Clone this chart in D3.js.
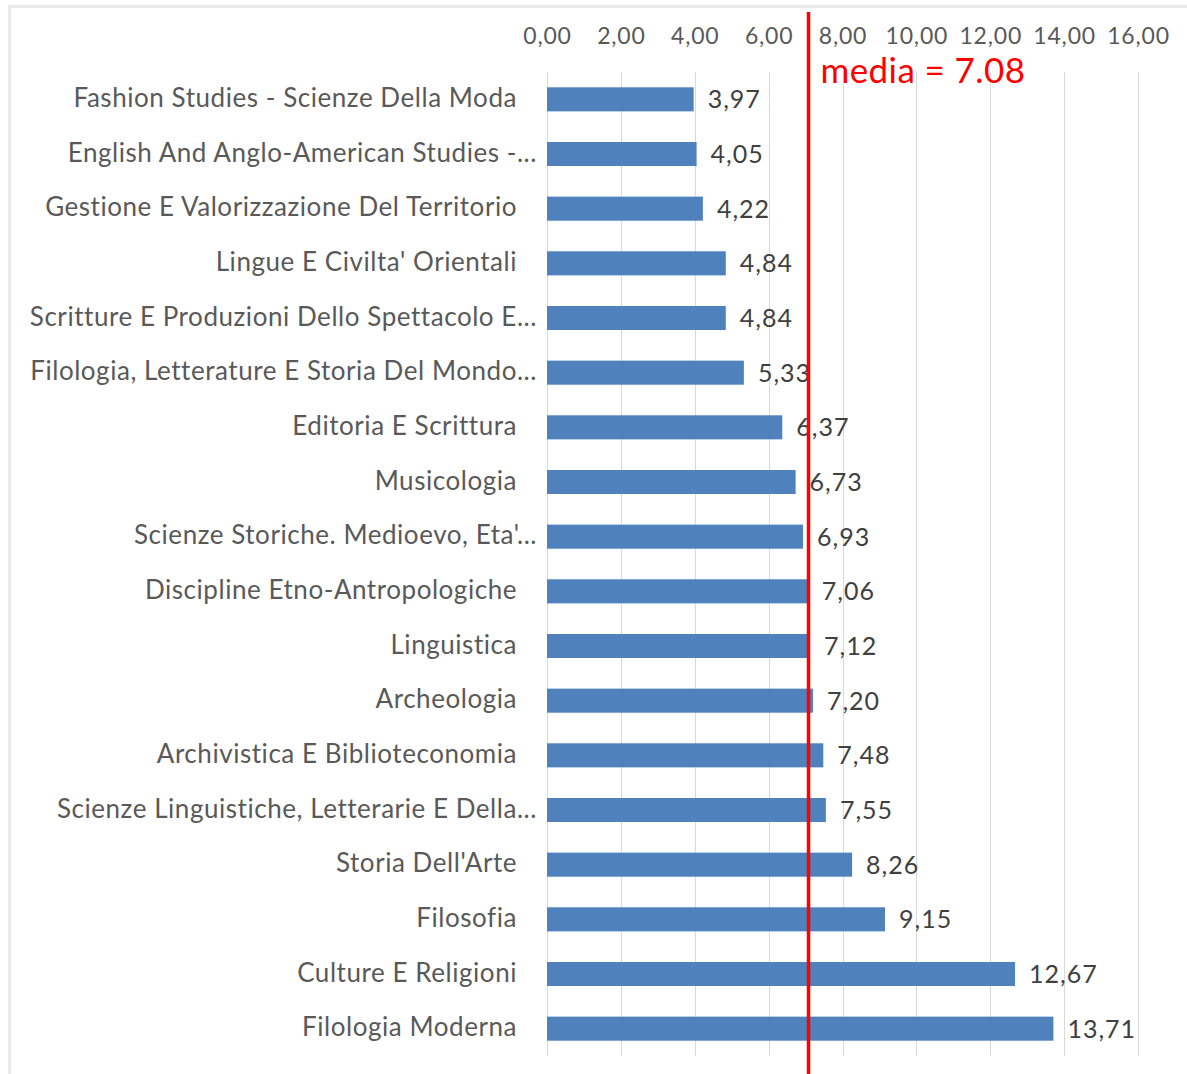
<!DOCTYPE html>
<html>
<head>
<meta charset="utf-8">
<script src="https://cdn.jsdelivr.net/npm/d3@7"></script>
<style>
  html, body { margin: 0; padding: 0; background: #ffffff; }
  svg { display: block; }
  text { font-family: Lato, "Open Sans", "DejaVu Sans", sans-serif; }
</style>
</head>
<body>
<svg id="chart" width="1187" height="1074"></svg>
<script>
// Corsi di laurea, ordered from lowest to highest value
const categories = [
  "Fashion Studies - Scienze Della Moda",
  "English And Anglo-American Studies -...",
  "Gestione E Valorizzazione Del Territorio",
  "Lingue E Civilta' Orientali",
  "Scritture E Produzioni Dello Spettacolo E...",
  "Filologia, Letterature E Storia Del Mondo...",
  "Editoria E Scrittura",
  "Musicologia",
  "Scienze Storiche. Medioevo, Eta'...",
  "Discipline Etno-Antropologiche",
  "Linguistica",
  "Archeologia",
  "Archivistica E Biblioteconomia",
  "Scienze Linguistiche, Letterarie E Della...",
  "Storia Dell'Arte",
  "Filosofia",
  "Culture E Religioni",
  "Filologia Moderna"
];
const values = [3.97, 4.05, 4.22, 4.84, 4.84, 5.33, 6.37, 6.73, 6.93, 7.06, 7.12, 7.20, 7.48, 7.55, 8.26, 9.15, 12.67, 13.71];
const tickValues = [0, 2, 4, 6, 8, 10, 12, 14, 16];
const mean = 7.08;
const meanLabel = "media = 7.08";

const svg = d3.select("#chart");
const W = 1187, H = 1074;

const itLocale = d3.formatLocale({ decimal: ",", thousands: ".", grouping: [3], currency: ["€", ""] });
const fmt = itLocale.format(".2f");

const x = d3.scaleLinear().domain([0, 16]).range([547, 1138]);
const y = d3.scaleBand().domain(categories).range([72, 1056])
  .paddingInner(0.56).paddingOuter(0.28);

// outer frame
svg.append("rect")
  .attr("x", 9.5).attr("y", 6.5)
  .attr("width", W + 10).attr("height", H + 10)
  .attr("fill", "none").attr("stroke", "#ebebeb").attr("stroke-width", 3);

// vertical gridlines
svg.append("g").selectAll("line")
  .data(tickValues.slice(1))
  .join("line")
  .attr("x1", d => Math.round(x(d)) + 0.5).attr("x2", d => Math.round(x(d)) + 0.5)
  .attr("y1", 72).attr("y2", 1056)
  .attr("stroke", "#d9d9d9").attr("stroke-width", 1);

// category axis line
svg.append("line")
  .attr("x1", x(0) + 0.5).attr("x2", x(0) + 0.5)
  .attr("y1", 72).attr("y2", 1056)
  .attr("stroke", "#d9d9d9").attr("stroke-width", 1);

// value axis on top
const xAxis = svg.append("g")
  .attr("transform", "translate(0,44)")
  .call(d3.axisTop(x).tickValues(tickValues).tickFormat(fmt).tickSize(0).tickPadding(0));
xAxis.select(".domain").remove();
xAxis.selectAll("text")
  .attr("font-size", 23).attr("fill", "#595959")
  .attr("letter-spacing", 0.8)
  .style("font-family", "Lato, 'Open Sans', sans-serif");

// bars
svg.append("g").selectAll("rect")
  .data(values)
  .join("rect")
  .attr("x", x(0))
  .attr("y", (d, i) => y(categories[i]))
  .attr("width", d => x(d) - x(0))
  .attr("height", y.bandwidth())
  .attr("fill", "#4f81bd");

// category labels; truncated names let their ellipsis run past the label edge
svg.append("g").selectAll("text")
  .data(categories)
  .join("text")
  .attr("x", d => d.endsWith("...") ? 537 : 517)
  .attr("y", d => y(d) + y.bandwidth() / 2)
  .attr("dy", "0.3em")
  .attr("text-anchor", "end")
  .attr("font-size", 26)
  .attr("letter-spacing", 0.55)
  .attr("fill", "#595959")
  .text(d => d);

// value labels
svg.append("g").selectAll("text")
  .data(values)
  .join("text")
  .attr("x", d => x(d) + 14)
  .attr("y", (d, i) => y(categories[i]) + y.bandwidth() / 2)
  .attr("dy", "0.36em")
  .attr("font-size", 25)
  .attr("letter-spacing", 1)
  .attr("fill", "#404040")
  .text(d => fmt(d));

// mean reference line
svg.append("line")
  .attr("x1", x(mean)).attr("x2", x(mean))
  .attr("y1", 12).attr("y2", H)
  .attr("stroke", "#ff0000").attr("stroke-width", 3.5);

svg.append("text")
  .attr("x", x(mean) + 12)
  .attr("y", 83)
  .attr("font-size", 35)
  .attr("letter-spacing", 0.4)
  .attr("fill", "#ff0000")
  .text(meanLabel);
</script>
</body>
</html>
